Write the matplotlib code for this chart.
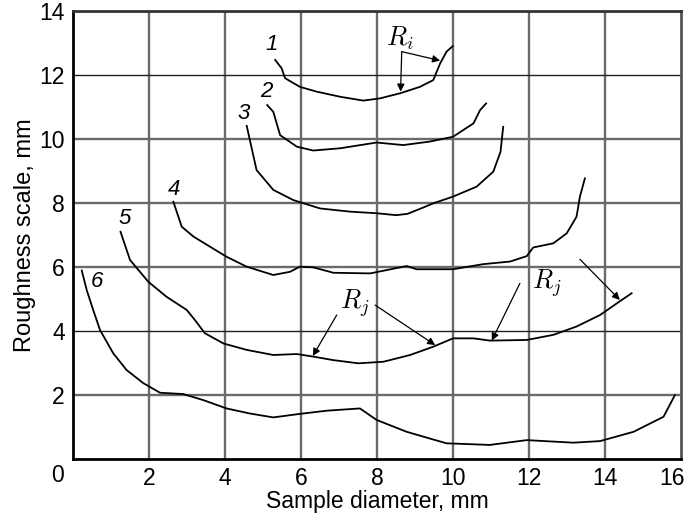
import matplotlib.pyplot as plt
import matplotlib.transforms as mtransforms

plt.rcParams["mathtext.fontset"] = "cm"

# curve data (sample diameter, roughness scale)
c1_x = [5.32, 5.49, 5.58, 5.97, 6.41, 7.03, 7.64, 8.08, 8.61, 9.13, 9.48, 9.66, 9.83, 9.99]
c1_y = [12.47, 12.21, 11.90, 11.63, 11.48, 11.32, 11.20, 11.27, 11.43, 11.63, 11.84, 12.36, 12.73, 12.90]

c2_x = [5.11, 5.27, 5.45, 5.89, 6.32, 7.03, 7.99, 8.69, 9.39, 10.0, 10.54, 10.71, 10.87]
c2_y = [11.06, 10.85, 10.12, 9.76, 9.64, 9.71, 9.89, 9.81, 9.92, 10.07, 10.49, 10.90, 11.11]

c3_x = [4.57, 4.83, 5.27, 5.80, 6.50, 7.29, 7.99, 8.50, 8.80, 9.22, 9.48, 10.0, 10.62, 11.06, 11.25, 11.32]
c3_y = [10.41, 9.03, 8.41, 8.09, 7.83, 7.73, 7.68, 7.62, 7.66, 7.86, 7.99, 8.20, 8.51, 8.98, 9.60, 10.38]

c4_x = [2.64, 2.86, 3.17, 4.04, 4.57, 5.27, 5.71, 5.97, 6.32, 6.85, 7.82, 8.78, 9.04, 10.0,
        10.8, 11.5, 11.94, 12.11, 12.64, 12.99, 13.25, 13.34, 13.47]
c4_y = [8.04, 7.26, 6.95, 6.32, 6.01, 5.75, 5.85, 6.01, 5.99, 5.82, 5.80, 6.03, 5.93, 5.93,
        6.09, 6.17, 6.34, 6.61, 6.74, 7.05, 7.57, 8.20, 8.77]

c5_x = [1.25, 1.50, 1.98, 2.46, 2.99, 3.21, 3.47, 3.96, 4.57, 5.27, 5.89, 6.32, 6.85, 7.51,
        8.17, 8.87, 9.48, 10.0, 10.54, 10.97, 11.94, 12.64, 13.25, 13.87, 14.44, 14.70]
c5_y = [7.10, 6.22, 5.54, 5.07, 4.66, 4.34, 3.93, 3.61, 3.41, 3.25, 3.28, 3.20, 3.09, 2.99,
        3.04, 3.25, 3.51, 3.77, 3.77, 3.70, 3.72, 3.88, 4.14, 4.50, 4.97, 5.18]

c6_x = [0.23, 0.36, 0.53, 0.71, 1.06, 1.41, 1.85, 2.29, 2.90, 3.43, 4.04, 4.66, 5.27, 5.97,
        6.68, 7.55, 7.99, 8.78, 9.39, 9.83, 10.97, 11.94, 13.17, 13.87, 14.75, 15.54, 15.84]
c6_y = [5.89, 5.28, 4.66, 4.03, 3.30, 2.78, 2.37, 2.07, 2.03, 1.84, 1.58, 1.42, 1.30, 1.41,
        1.51, 1.58, 1.22, 0.85, 0.64, 0.49, 0.44, 0.59, 0.51, 0.56, 0.85, 1.32, 2.00]

curves = [(c1_x, c1_y), (c2_x, c2_y), (c3_x, c3_y), (c4_x, c4_y), (c5_x, c5_y), (c6_x, c6_y)]

# curve number labels
label_text = ["1", "2", "3", "4", "5", "6"]
label_x = [5.23, 5.08, 4.48, 2.66, 1.37, 0.64]
label_y = [12.94, 11.48, 10.80, 8.43, 7.52, 5.54]

x_ticks = [2, 4, 6, 8, 10, 12, 14, 16]
y_ticks = [2, 4, 6, 8, 10, 12, 14]

fig = plt.figure(figsize=(6.87, 5.14), dpi=100)
ax = fig.add_axes([0.1063, 0.107, 0.885, 0.8716])

# grid
for gx in x_ticks[:-1]:
    ax.axvline(gx, color="#6a6a6a", lw=1.7, zorder=1)
for gy in y_ticks[:-1]:
    if gy in (4, 12):
        ax.axhline(gy, color="#222222", lw=1.0, zorder=1)
    else:
        ax.axhline(gy, color="#6a6a6a", lw=1.7, zorder=1)

for cx, cy in curves:
    ax.plot(cx, cy, color="black", lw=1.3, zorder=3)

for t, lx, ly in zip(label_text, label_x, label_y):
    ax.text(lx, ly, t, fontsize=16, style="italic", family="Liberation Sans",
            ha="center", va="center")

arrow = dict(arrowstyle="-|>", lw=0.9, color="black", mutation_scale=11, shrinkA=0, shrinkB=0)

# R_i
ax.text(8.61, 13.15, r"$R_i$", fontsize=19, ha="center", va="center")
ax.annotate("", xy=(8.62, 11.48), xytext=(8.65, 12.73), arrowprops=arrow)
ax.annotate("", xy=(9.66, 12.45), xytext=(8.65, 12.73), arrowprops=arrow)

# R_j
ax.text(7.42, 4.87, r"$R_j$", fontsize=19, ha="center", va="center")
ax.annotate("", xy=(6.31, 3.22), xytext=(6.94, 4.5), arrowprops=arrow)
ax.annotate("", xy=(9.53, 3.56), xytext=(7.95, 4.81), arrowprops=arrow)
ax.text(12.46, 5.49, r"$R_j$", fontsize=19, ha="center", va="center")
ax.annotate("", xy=(11.02, 3.70), xytext=(11.76, 5.49), arrowprops=arrow)
ax.annotate("", xy=(14.39, 4.97), xytext=(13.34, 6.24), arrowprops=arrow)

ax.set_xlim(0, 16)
ax.set_ylim(0, 14)
ax.set_xticks(x_ticks)
ax.set_yticks(y_ticks)
ax.tick_params(length=0, labelsize=16.5, pad=6)
for lab in ax.get_xticklabels() + ax.get_yticklabels():
    lab.set_family("Liberation Sans")
# last x label sits inside the figure edge
last = ax.get_xticklabels()[-1]
last.set_transform(last.get_transform() + mtransforms.ScaledTranslation(-9 / 100, 0, fig.dpi_scale_trans))
ax.text(-0.4, -0.5, "0", fontsize=16.5, family="Liberation Sans", ha="center", va="center")

for s in ax.spines.values():
    s.set_linewidth(2)
ax.spines["right"].set_color("#555555")
ax.spines["top"].set_color("#333333")

ax.set_xlabel("Sample diameter, mm", fontsize=16.5, family="Liberation Sans", labelpad=0)
ax.set_ylabel("Roughness scale, mm", fontsize=17, family="Liberation Sans", labelpad=2)

fig.savefig("out.png", dpi=100)
